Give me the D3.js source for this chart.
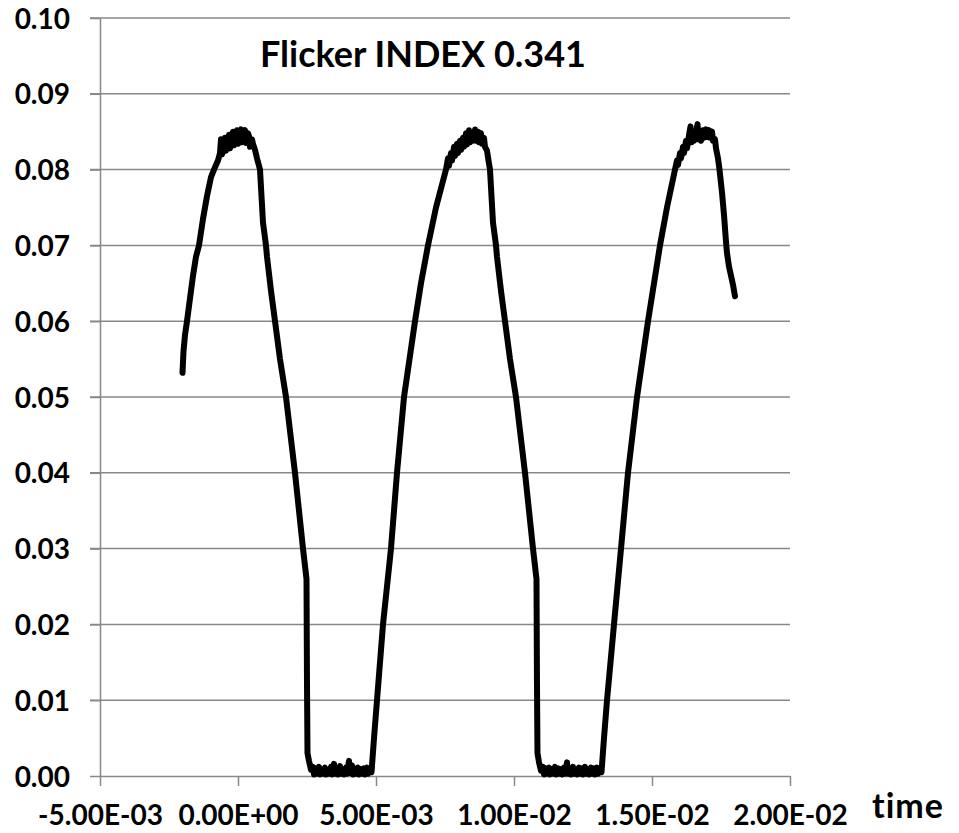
<!DOCTYPE html>
<html lang="en">
<head>
  <meta charset="UTF-8" />
  <title>Flicker INDEX 0.341</title>
  <style>
    body {
      margin: 0;
      background-color: #fff;
    }

    svg {
      display: block;
    }

    .grid line,
    .axis line,
    .axis path {
      stroke: #888;
      stroke-width: 1.5px;
    }

    .axis text,
    .label {
      font-family: Lato, sans-serif;
      font-weight: bold;
      fill: #000;
    }

    .trace {
      fill: none;
      stroke: #000;
      stroke-width: 6px;
      stroke-linejoin: round;
      stroke-linecap: round;
    }
  </style>
</head>
<body>
  <svg width="959" height="833"></svg>

  <script src="https://d3js.org/d3.v7.min.js"></script>
  <script>
    // time in ms, signal in arbitrary units
    const rise1 = [
      [-2.011, 0.0532], [-1.975, 0.0560], [-1.920, 0.0582], [-1.848, 0.0600],
      [-1.739, 0.0630], [-1.630, 0.0660], [-1.522, 0.0685], [-1.413, 0.0700],
      [-1.268, 0.0735], [-1.123, 0.0765], [-0.978, 0.0790], [-0.870, 0.0800],
      [-0.725, 0.0812]
    ];
    const peak1 = [
      [-0.652, 0.0822], [-0.616, 0.0840], [-0.580, 0.0820], [-0.507, 0.0830],
      [-0.471, 0.0842], [-0.435, 0.0825], [-0.362, 0.0838], [-0.326, 0.0846],
      [-0.290, 0.0828], [-0.217, 0.0840], [-0.181, 0.0850], [-0.145, 0.0832],
      [-0.072, 0.0845], [-0.036, 0.0852], [0.000, 0.0834], [0.072, 0.0848],
      [0.109, 0.0853], [0.145, 0.0836], [0.217, 0.0850], [0.254, 0.0852],
      [0.290, 0.0835], [0.362, 0.0848], [0.399, 0.0844], [0.435, 0.0830],
      [0.507, 0.0840], [0.543, 0.0834], [0.616, 0.0826], [0.688, 0.0815]
    ];
    const fall1 = [
      [0.797, 0.0800], [0.906, 0.0730], [1.014, 0.0700], [1.051, 0.0685],
      [1.196, 0.0640], [1.341, 0.0600], [1.522, 0.0550], [1.739, 0.0500],
      [2.065, 0.0400], [2.355, 0.0300], [2.482, 0.0260], [2.500, 0.0120],
      [2.518, 0.0030]
    ];
    const low1 = [
      [2.572, 0.0020], [2.645, 0.0008], [2.717, 0.0012], [2.754, 0.0002],
      [2.826, 0.0010], [2.862, 0.0003], [2.935, 0.0012], [2.971, 0.0002],
      [3.043, 0.0009], [3.080, 0.0003], [3.152, 0.0011], [3.188, 0.0002],
      [3.261, 0.0008], [3.297, 0.0003], [3.370, 0.0012], [3.406, 0.0002],
      [3.478, 0.0016], [3.515, 0.0003], [3.587, 0.0010], [3.623, 0.0002],
      [3.696, 0.0013], [3.732, 0.0003], [3.804, 0.0009], [3.841, 0.0002],
      [3.913, 0.0011], [3.949, 0.0003], [4.022, 0.0020], [4.058, 0.0004],
      [4.130, 0.0014], [4.167, 0.0002], [4.239, 0.0010], [4.275, 0.0003],
      [4.348, 0.0011], [4.384, 0.0002], [4.457, 0.0009], [4.493, 0.0003],
      [4.565, 0.0010], [4.601, 0.0002], [4.674, 0.0011], [4.710, 0.0003],
      [4.783, 0.0009], [4.837, 0.0005]
    ];
    const rise2 = [
      [4.928, 0.005], [5.036, 0.010], [5.254, 0.020], [5.543, 0.030],
      [5.761, 0.040], [6.015, 0.050], [6.413, 0.060], [6.630, 0.065],
      [6.884, 0.070], [7.174, 0.075]
    ];
    const peak2 = [
      [7.536, 0.0800], [7.609, 0.0815], [7.645, 0.0805], [7.717, 0.0822],
      [7.754, 0.0812], [7.826, 0.0830], [7.862, 0.0818], [7.935, 0.0834],
      [7.971, 0.0822], [8.044, 0.0838], [8.080, 0.0826], [8.152, 0.0842],
      [8.188, 0.0830], [8.261, 0.0848], [8.297, 0.0833], [8.370, 0.0852],
      [8.406, 0.0836], [8.478, 0.0849], [8.515, 0.0838], [8.587, 0.0853],
      [8.623, 0.0838], [8.696, 0.0850], [8.732, 0.0836], [8.804, 0.0848],
      [8.841, 0.0834], [8.913, 0.0842], [8.949, 0.0830], [9.022, 0.0825],
      [9.076, 0.0812], [9.130, 0.0800]
    ];
    const fall2 = [
      [9.239, 0.073], [9.348, 0.070], [9.384, 0.0685], [9.529, 0.064],
      [9.674, 0.060], [9.855, 0.055], [10.072, 0.050], [10.399, 0.040],
      [10.688, 0.030], [10.815, 0.026], [10.833, 0.012], [10.851, 0.003]
    ];
    const low2 = [
      [10.906, 0.0018], [10.978, 0.0007], [11.051, 0.0012], [11.087, 0.0002],
      [11.159, 0.0010], [11.196, 0.0003], [11.268, 0.0011], [11.304, 0.0002],
      [11.377, 0.0009], [11.413, 0.0003], [11.486, 0.0012], [11.522, 0.0002],
      [11.594, 0.0010], [11.630, 0.0003], [11.703, 0.0009], [11.739, 0.0002],
      [11.812, 0.0011], [11.848, 0.0003], [11.920, 0.0018], [11.957, 0.0003],
      [12.029, 0.0010], [12.065, 0.0002], [12.138, 0.0012], [12.174, 0.0003],
      [12.246, 0.0009], [12.283, 0.0002], [12.355, 0.0011], [12.391, 0.0003],
      [12.464, 0.0010], [12.500, 0.0002], [12.572, 0.0012], [12.609, 0.0003],
      [12.681, 0.0009], [12.717, 0.0002], [12.790, 0.0011], [12.826, 0.0003],
      [12.899, 0.0010], [12.935, 0.0002], [13.007, 0.0011], [13.043, 0.0003],
      [13.116, 0.0009], [13.170, 0.0005]
    ];
    const rise3 = [
      [13.261, 0.005], [13.370, 0.010], [13.623, 0.020], [13.877, 0.030],
      [14.130, 0.040], [14.457, 0.050], [14.855, 0.060], [15.073, 0.065],
      [15.290, 0.070], [15.543, 0.075]
    ];
    const peak3 = [
      [15.833, 0.0800], [15.906, 0.0812], [15.942, 0.0806], [16.015, 0.0822],
      [16.051, 0.0815], [16.123, 0.0830], [16.159, 0.0822], [16.232, 0.0838],
      [16.268, 0.0828], [16.341, 0.0845], [16.395, 0.0857], [16.431, 0.0836],
      [16.486, 0.0846], [16.522, 0.0838], [16.594, 0.0848], [16.649, 0.0860],
      [16.685, 0.0840], [16.739, 0.0846], [16.775, 0.0838], [16.848, 0.0852],
      [16.884, 0.0842], [16.957, 0.0853], [16.993, 0.0843], [17.065, 0.0852],
      [17.101, 0.0842], [17.174, 0.0850], [17.210, 0.0838], [17.283, 0.0840],
      [17.319, 0.0828], [17.391, 0.0815], [17.446, 0.0800]
    ];
    const fall3 = [
      [17.536, 0.0770], [17.609, 0.0740], [17.681, 0.0705], [17.717, 0.0690],
      [17.790, 0.0672], [17.862, 0.0660], [17.935, 0.0648], [18.007, 0.0633]
    ];

    const yTicks = [0, 0.01, 0.02, 0.03, 0.04, 0.05, 0.06, 0.07, 0.08, 0.09, 0.10];
    const xTicks = [-0.005, 0, 0.005, 0.01, 0.015, 0.02];
    const xTickLabels = ["-5.00E-03", "0.00E+00", "5.00E-03", "1.00E-02", "1.50E-02", "2.00E-02"];
    const title = "Flicker INDEX 0.341";
    const xTitle = "time";

    const trace = [].concat(rise1, peak1, fall1, low1, rise2, peak2, fall2,
      low2, rise3, peak3, fall3).map(d => ({ t: d[0] / 1000, v: d[1] }));

    const plotLeft = 100, plotRight = 790, plotTop = 18, plotBottom = 776;

    const x = d3.scaleLinear().domain([-0.005, 0.02]).range([plotLeft, plotRight]);
    const y = d3.scaleLinear().domain([0, 0.10]).range([plotBottom, plotTop]);

    const svg = d3.select("svg");

    // horizontal gridlines (they also poke out left as tick marks)
    svg.append("g")
      .attr("class", "grid")
      .selectAll("line")
      .data(yTicks.filter(d => d > 0))
      .join("line")
      .attr("x1", plotLeft - 10)
      .attr("x2", plotRight)
      .attr("y1", d => y(d))
      .attr("y2", d => y(d));

    const yAxis = svg.append("g")
      .attr("class", "axis")
      .attr("transform", `translate(${plotLeft},0)`)
      .call(d3.axisLeft(y)
        .tickValues(yTicks)
        .tickFormat(d3.format(".2f"))
        .tickSize(10)
        .tickSizeOuter(0)
        .tickPadding(20));
    yAxis.selectAll("text")
      .style("font-size", "28px")
      .attr("dy", "0.36em");

    const xAxis = svg.append("g")
      .attr("class", "axis")
      .attr("transform", `translate(0,${plotBottom})`)
      .call(d3.axisBottom(x)
        .tickValues(xTicks)
        .tickFormat((d, i) => xTickLabels[i])
        .tickSize(10)
        .tickSizeOuter(0));
    xAxis.selectAll("text")
      .style("font-size", "28px")
      .attr("y", 49)
      .attr("dy", 0);

    const line = d3.line()
      .x(d => x(d.t))
      .y(d => y(d.v));

    svg.append("path")
      .datum(trace)
      .attr("class", "trace")
      .attr("d", line);

    svg.append("text")
      .attr("class", "label")
      .attr("x", 423)
      .attr("y", 67)
      .attr("text-anchor", "middle")
      .style("font-size", "36px")
      .text(title);

    svg.append("text")
      .attr("class", "label")
      .attr("x", 908)
      .attr("y", 818)
      .attr("text-anchor", "middle")
      .style("font-size", "34px")
      .style("letter-spacing", "1px")
      .text(xTitle);
  </script>
</body>
</html>
